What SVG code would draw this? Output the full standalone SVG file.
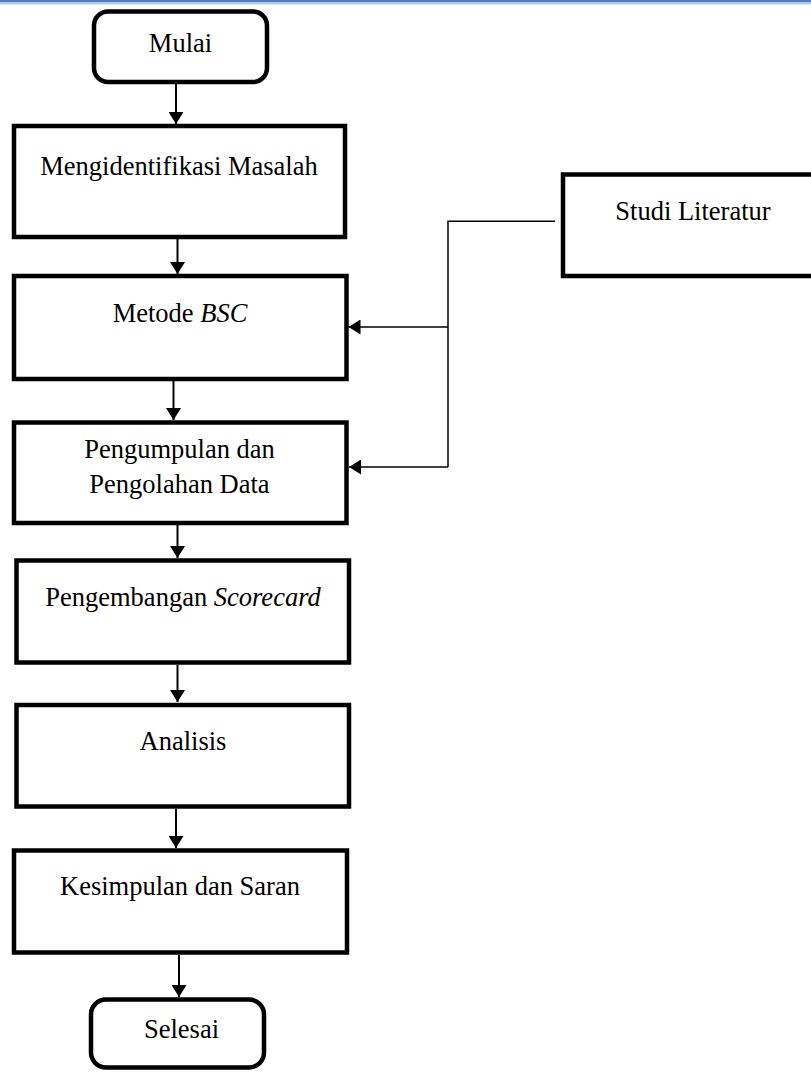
<svg xmlns="http://www.w3.org/2000/svg" width="811" height="1072" viewBox="0 0 811 1072">
  <style>
    .box { fill: #ffffff; stroke: #000000; stroke-width: 4.5; }
    .lbl { font-family: "Liberation Serif", "Times New Roman", serif; font-size: 26.5px; fill: #000000; text-anchor: middle; }
    .flow { fill: none; stroke: #000000; stroke-width: 2; }
    .side { fill: none; stroke: #000000; stroke-width: 1.5; }
  </style>
  <defs>
    <marker id="arrow" viewBox="0 0 12 15" refX="12" refY="7.5" markerWidth="12" markerHeight="15" markerUnits="userSpaceOnUse" orient="auto">
      <path d="M0,0 L12,7.5 L0,15 z" fill="#000000"/>
    </marker>
  </defs>
  <rect width="811" height="1072" fill="#ffffff"/>
  <g id="header-rule">
    <line x1="0" y1="1.2" x2="811" y2="1.2" stroke="#4f81bd" stroke-width="2.4"/>
    <line x1="0" y1="3.4" x2="811" y2="3.4" stroke="#b8cce4" stroke-width="2"/>
  </g>
  <g id="connectors">
    <line class="flow" x1="176" y1="84" x2="176" y2="124" marker-end="url(#arrow)"/>
    <line class="flow" x1="177.5" y1="239" x2="177.5" y2="274" marker-end="url(#arrow)"/>
    <line class="flow" x1="173.5" y1="381" x2="173.5" y2="420" marker-end="url(#arrow)"/>
    <line class="flow" x1="177.5" y1="525" x2="177.5" y2="558" marker-end="url(#arrow)"/>
    <line class="flow" x1="177.5" y1="665" x2="177.5" y2="702" marker-end="url(#arrow)"/>
    <line class="flow" x1="176" y1="809" x2="176" y2="848" marker-end="url(#arrow)"/>
    <line class="flow" x1="179" y1="955" x2="179" y2="997" marker-end="url(#arrow)"/>
    <polyline class="side" points="555,221.3 448,221.3 448,467"/>
    <line class="side" x1="448" y1="327" x2="348.5" y2="327" marker-end="url(#arrow)"/>
    <line class="side" x1="448" y1="467" x2="349" y2="467" marker-end="url(#arrow)"/>
  </g>
  <g id="mulai">
    <rect class="box" x="94" y="11.5" width="173" height="70.5" rx="14" ry="14"/>
    <text class="lbl" x="180.5" y="52">Mulai</text>
  </g>
  <g id="mengidentifikasi">
    <rect class="box" x="14" y="126" width="331" height="111"/>
    <text class="lbl" x="179" y="175">Mengidentifikasi Masalah</text>
  </g>
  <g id="metode">
    <rect class="box" x="14" y="276" width="332.5" height="103"/>
    <text class="lbl" x="180" y="322">Metode <tspan font-style="italic">BSC</tspan></text>
  </g>
  <g id="pengumpulan">
    <rect class="box" x="14" y="422.5" width="332.5" height="100.5"/>
    <text class="lbl" x="179.5" y="458">Pengumpulan dan</text>
    <text class="lbl" x="179.5" y="493">Pengolahan Data</text>
  </g>
  <g id="pengembangan">
    <rect class="box" x="16.5" y="560.5" width="332.5" height="102"/>
    <text class="lbl" x="183" y="606">Pengembangan <tspan font-style="italic">Scorecard</tspan></text>
  </g>
  <g id="analisis">
    <rect class="box" x="16.5" y="705" width="332.5" height="101.5"/>
    <text class="lbl" x="183" y="750">Analisis</text>
  </g>
  <g id="kesimpulan">
    <rect class="box" x="14" y="850.5" width="333" height="102"/>
    <text class="lbl" x="180" y="895">Kesimpulan dan Saran</text>
  </g>
  <g id="selesai">
    <rect class="box" x="91" y="999.5" width="173" height="68" rx="15" ry="15"/>
    <text class="lbl" x="181.5" y="1038">Selesai</text>
  </g>
  <g id="studi-literatur">
    <rect class="box" x="563" y="174.5" width="260" height="101.5"/>
    <text class="lbl" x="693" y="220">Studi Literatur</text>
  </g>
</svg>
